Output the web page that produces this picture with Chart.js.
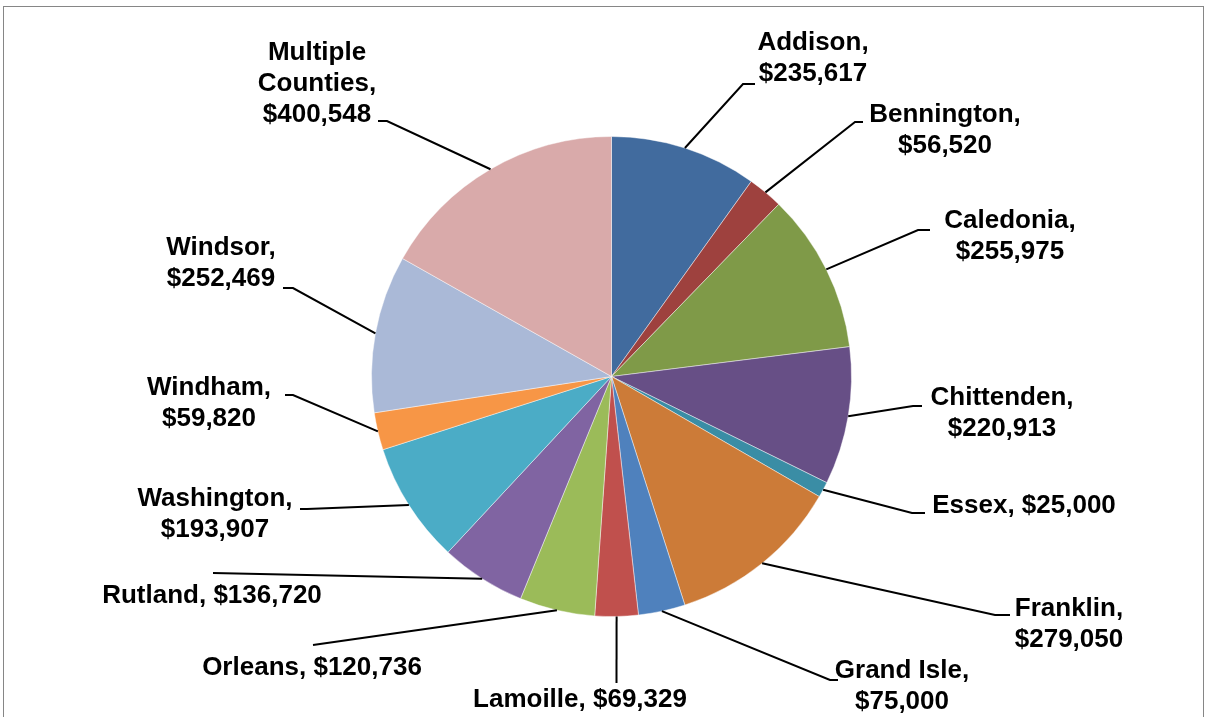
<!DOCTYPE html>
<html>
<head>
<meta charset="utf-8">
<title>Grants by County</title>
<script src="https://cdn.jsdelivr.net/npm/chart.js@4.4.1/dist/chart.umd.min.js"></script>
<style>
  html, body { margin: 0; padding: 0; background: #fff; }
  #wrap { width: 1206px; height: 717px; }
</style>
</head>
<body>
<div id="wrap"><canvas id="myChart" width="1206" height="717"></canvas></div>
<script>
// Datos del gráfico
const counties = ['Addison', 'Bennington', 'Caledonia', 'Chittenden', 'Essex', 'Franklin', 'Grand Isle',
  'Lamoille', 'Orleans', 'Rutland', 'Washington', 'Windham', 'Windsor', 'Multiple\nCounties'];
const amounts = [235617, 56520, 255975, 220913, 25000, 279050, 75000,
  69329, 120736, 136720, 193907, 59820, 252469, 400548];
const sliceColors = ['#416B9E', '#9E413E', '#7F9A48', '#674F86', '#3A8DA5', '#CC7B38', '#4F81BD',
  '#C0504D', '#9BBB59', '#8064A2', '#4BACC6', '#F79646', '#AAB9D7', '#D9AAAA'];
// etiquetas en una sola línea (nombre, $valor)
const oneLine = [false, false, false, false, true, false, false, true, true, true, false, false, false, false];

// posición de las etiquetas relativa al centro del pastel (px para radio 240)
// [centro texto x, centro texto y, codo x, codo y, fin x]
const labelLayout = [
  [201.5, -319.5, 131.5, -292.5, 143.5],
  [333.5, -247.5, 243.5, -254.5, 251.5],
  [398.5, -141.5, 306.5, -146.5, 318.5],
  [390.5, 35.5, 301.5, 29.5, 310.5],
  [412.5, 128.5, 300.5, 136.5, 313.5],
  [457.5, 247, 383.5, 238.5, 398.5],
  [290.5, 308.5, 218.5, 303.5, 226.5],
  [-31.5, 322.5, 5, 306.5, 5],
  [-299.5, 290.5, -298.5, 268.5, -298.5],
  [-399.5, 218.5, -398.5, 196.5, -398.5],
  [-396.5, 136.5, -304.5, 132.5, -311.5],
  [-402.5, 25.5, -318.5, 18.5, -326.5],
  [-390.5, -114.5, -318.5, -88.5, -328.5],
  [-294.5, -293.5, -224.5, -255.5, -233.5]
];

const fmt = v => '$' + v.toLocaleString('en-US');

// Marco gris alrededor del gráfico
const framePlugin = {
  id: 'frame',
  beforeDraw(chart) {
    const c = chart.ctx;
    c.save();
    c.strokeStyle = '#868686';
    c.lineWidth = 1;
    c.strokeRect(3.5, 6.5, 1200, 760);
    c.restore();
  }
};

// Etiquetas externas con líneas guía
const labelsPlugin = {
  id: 'outLabels',
  afterDatasetsDraw(chart) {
    const c = chart.ctx;
    const arcs = chart.getDatasetMeta(0).data;
    c.save();
    arcs.forEach((arc, i) => {
      const { x, y, startAngle, endAngle, outerRadius } = arc.getProps(['x', 'y', 'startAngle', 'endAngle', 'outerRadius'], true);
      const k = outerRadius / 240;
      const mid = (startAngle + endAngle) / 2;
      const [tx, ty, ex, ey, hx] = labelLayout[i];
      // línea guía
      c.strokeStyle = '#000';
      c.lineWidth = 2;
      c.beginPath();
      c.moveTo(x + Math.cos(mid) * outerRadius, y + Math.sin(mid) * outerRadius);
      c.lineTo(x + ex * k, y + ey * k);
      c.lineTo(x + hx * k, y + ey * k);
      c.stroke();
      // texto
      let lines;
      if (oneLine[i]) {
        lines = [counties[i] + ', ' + fmt(amounts[i])];
      } else {
        const parts = counties[i].split('\n');
        parts[parts.length - 1] += ',';
        lines = parts.concat([fmt(amounts[i])]);
      }
      c.fillStyle = '#000';
      c.font = 'bold 26px "Liberation Sans", Arial, sans-serif';
      c.textAlign = 'center';
      c.textBaseline = 'middle';
      const lh = 31;
      const y0 = y + ty * k - (lines.length - 1) * lh / 2;
      lines.forEach((ln, j) => c.fillText(ln, x + tx * k, y0 + j * lh + 1));
    });
    c.restore();
  }
};

const ctx = document.getElementById('myChart');
new Chart(ctx, {
  type: 'pie',
  data: {
    labels: counties,
    datasets: [{
      data: amounts,
      backgroundColor: sliceColors,
      borderColor: 'rgba(255,255,255,0.55)',
      borderWidth: 0.8
    }]
  },
  options: {
    responsive: false,
    animation: false,
    radius: 240,
    layout: { padding: { left: 100, right: 83, top: 100, bottom: 64 } },
    plugins: {
      legend: { display: false },
      tooltip: { enabled: false }
    }
  },
  plugins: [framePlugin, labelsPlugin]
});
</script>
</body>
</html>
